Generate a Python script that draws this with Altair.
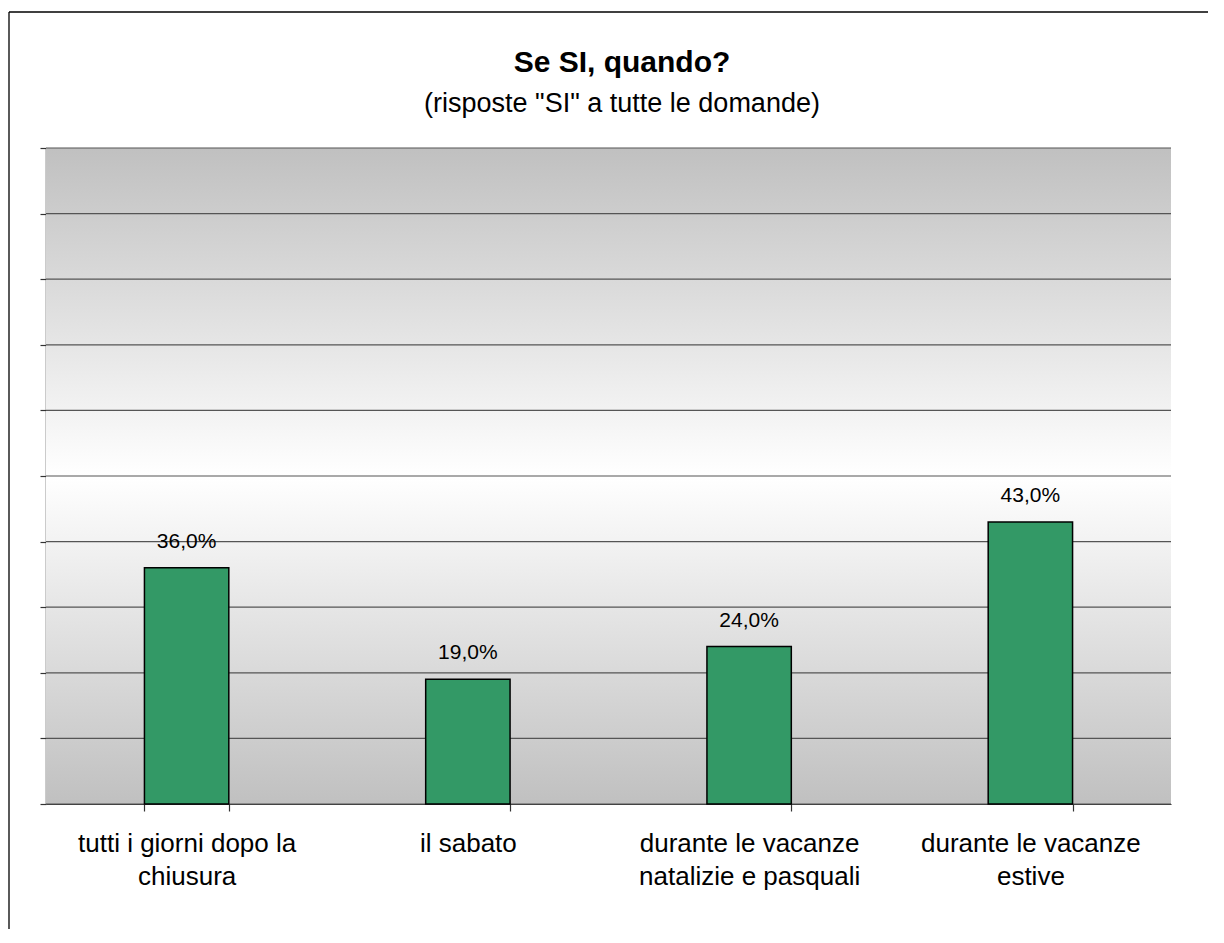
import altair as alt
import pandas as pd

# ---- data ----
categories = [
    "tutti i giorni dopo la\nchiusura",
    "il sabato",
    "durante le vacanze\nnatalizie e pasquali",
    "durante le vacanze\nestive",
]
values = [36.0, 19.0, 24.0, 43.0]
y_ticks = [0, 10, 20, 30, 40, 50, 60, 70, 80, 90, 100]
title_text = "Se SI, quando?"
subtitle_text = '(risposte "SI" a tutte le domande)'

df = pd.DataFrame({
    "category": categories,
    "value": values,
    "label": [f"{v:.1f}%".replace(".", ",") for v in values],
})
grid_df = pd.DataFrame({"tick": y_ticks})

W, H = 1125, 656
FONT = "Liberation Sans"

x_enc = alt.X(
    "category:N",
    sort=categories,
    scale=alt.Scale(paddingInner=0.7, paddingOuter=0.35),
    axis=alt.Axis(
        title=None, labelAngle=0, tickBand="extent", tickSize=7,
        labelFontSize=26, labelFont=FONT, labelColor="black",
        labelExpr="split(datum.label, '\\n')", labelLineHeight=33,
        labelPadding=19, labelLimit=400,
        domainColor="#333333", tickColor="#333333", domainWidth=1.2, tickWidth=1.2,
    ),
)
y_scale = alt.Scale(domain=[0, 100], nice=False, zero=True)
y_axis = alt.Axis(
    title=None, labels=False, values=y_ticks, tickSize=6, grid=False,
    domainColor="#333333", tickColor="#333333", domainWidth=1.5, tickWidth=1.2,
)

one = alt.Data(values=[{}])

background = alt.Chart(one).mark_rect(
    fill=alt.Gradient(
        gradient="linear",
        stops=[
            alt.GradientStop(color="#c0c0c0", offset=0),
            alt.GradientStop(color="#ffffff", offset=0.5),
            alt.GradientStop(color="#c0c0c0", offset=1),
        ],
        x1=0, x2=0, y1=0, y2=1,
    )
).encode(x=alt.value(0), x2=alt.value(W), y=alt.value(0), y2=alt.value(H))

grid = alt.Chart(grid_df).mark_rule(color="#555555", strokeWidth=1.2).encode(
    y=alt.Y("tick:Q", scale=y_scale, axis=y_axis)
)

bars = alt.Chart(df).mark_bar(
    color="#339966", stroke="black", strokeWidth=1.5
).encode(
    x=x_enc,
    y=alt.Y("value:Q", scale=y_scale, axis=y_axis),
)

labels = alt.Chart(df).mark_text(
    font=FONT, fontSize=21, color="black", baseline="alphabetic", dy=-20
).encode(
    x=alt.X("category:N", sort=categories),
    y=alt.Y("value:Q", scale=y_scale),
    text="label:N",
)

title = alt.Chart(one).mark_text(
    font=FONT, fontSize=30, fontWeight="bold", color="black",
    baseline="alphabetic", align="center"
).encode(x=alt.value(576), y=alt.value(-76), text=alt.value(title_text))

subtitle = alt.Chart(one).mark_text(
    font=FONT, fontSize=27, color="black",
    baseline="alphabetic", align="center"
).encode(x=alt.value(576), y=alt.value(-36), text=alt.value(subtitle_text))

border_left = alt.Chart(one).mark_rule(color="black", strokeWidth=1.3).encode(
    x=alt.value(-37), y=alt.value(-136), y2=alt.value(H + 125)
)
border_top = alt.Chart(one).mark_rule(color="black", strokeWidth=1.3).encode(
    x=alt.value(-37), x2=alt.value(W + 37), y=alt.value(-136)
)

chart = alt.layer(
    background, grid, bars, labels, title, subtitle, border_left, border_top
).properties(
    width=W, height=H,
    padding={"left": 38, "top": 140, "right": 37, "bottom": 125},
    autosize=alt.AutoSizeParams(type="none"),
).configure_view(stroke=None)

chart.save("out.html", embed_options={"renderer": "svg", "actions": False})
